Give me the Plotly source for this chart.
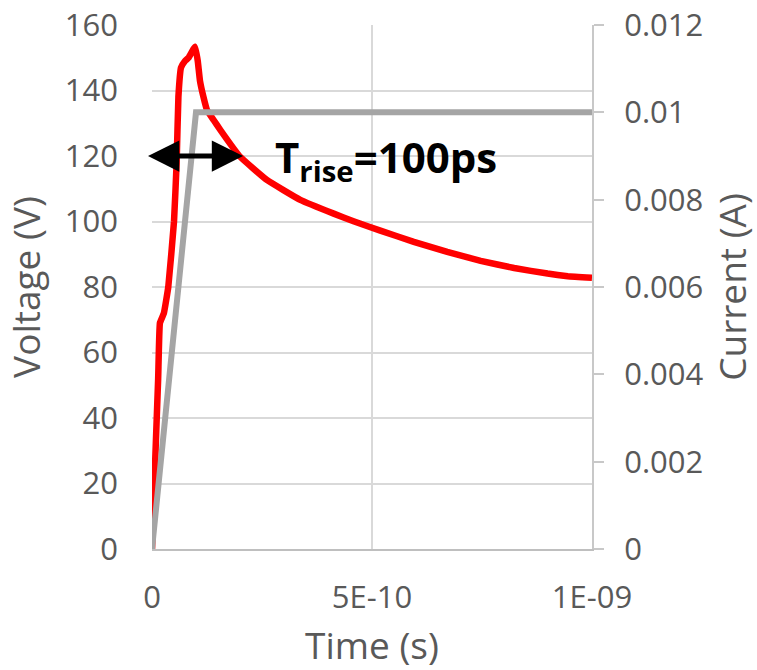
import plotly.graph_objects as go

# Voltage response (time in ps, voltage in V)
time_ps = [0, 14, 18, 27, 37, 50, 56, 60, 66, 75, 83, 98, 104, 109, 117, 125,
           140, 155, 200, 261, 337, 413, 458, 519, 595, 671, 747, 823, 899,
           945, 1000]
voltage_v = [0, 52, 69, 72, 80, 100, 118, 138, 147, 149, 150, 153.4, 149, 143,
             138, 134, 131, 128, 119.8, 112.7, 106.6, 102.4, 100.1, 97.2, 93.8,
             90.7, 88.0, 85.8, 84.1, 83.3, 82.8]

# Input current ramp (time in ps, current in A)
current_t_ps = [0, 100, 1000]
current_a = [0, 0.01, 0.01]

# Axis ticks
x_tickvals = [0, 5e-10, 1e-9]
x_ticktext = ["0", "5E-10", "1E-09"]

t_v = [t * 1e-12 for t in time_ps]
t_i = [t * 1e-12 for t in current_t_ps]

GRID = "#d9d9d9"
TXT = "#595959"
FONT = "Open Sans"

fig = go.Figure()
fig.add_trace(go.Scatter(x=t_i, y=current_a, mode="lines", yaxis="y2",
                         line=dict(color="#a5a5a5", width=6), showlegend=False))
fig.add_trace(go.Scatter(x=t_v, y=voltage_v, mode="lines",
                         line=dict(color="#ff0000", width=6.5, shape="spline", smoothing=0.3),
                         showlegend=False))

# Double-headed arrow marking the rise time
fig.add_annotation(x=2.07e-10, y=120, ax=-1.25e-11, ay=120,
                   xref="x", yref="y", axref="x", ayref="y",
                   text="", showarrow=True, arrowhead=2, startarrowhead=2,
                   arrowside="end+start", arrowwidth=5, arrowsize=1.25,
                   startarrowsize=1.25, arrowcolor="#000000")
fig.add_annotation(x=2.756e-10, y=119, xref="x", yref="y",
                   xanchor="left", yanchor="middle", showarrow=False,
                   text="<b>T<sub>rise</sub>=100ps</b>",
                   font=dict(family=FONT, size=42, color="#000000"))

fig.update_layout(
    template="none",
    width=757, height=670, autosize=False,
    margin=dict(l=152, r=165, t=25, b=121),
    paper_bgcolor="white", plot_bgcolor="white",
    font=dict(family=FONT, size=31, color=TXT),
    xaxis=dict(range=[0, 1e-9], tickvals=x_tickvals, ticktext=x_ticktext,
               automargin=False,
               showgrid=True, gridcolor=GRID, gridwidth=2,
               showline=True, linecolor="#bfbfbf", linewidth=2,
               zeroline=False, ticks="", ticklabelstandoff=20,
               title=dict(text="Time (s)", standoff=22)),
    yaxis=dict(range=[0, 160], dtick=20, showgrid=True, gridcolor=GRID,
               automargin=False,
               gridwidth=2, zeroline=False, showline=False, ticks="",
               ticklabelstandoff=33,
               title=dict(text="Voltage (V)", standoff=12)),
    yaxis2=dict(range=[0, 0.012], dtick=0.002, overlaying="y", side="right",
                automargin=False,
                showgrid=False, zeroline=False, showline=True,
                linecolor="#c8c8c8", linewidth=2, ticks="outside",
                ticklen=10, tickwidth=2, tickcolor="#c8c8c8",
                ticklabelstandoff=14,
                title=dict(text="Current (A)", standoff=32)),
)

fig.write_html("out.html")
